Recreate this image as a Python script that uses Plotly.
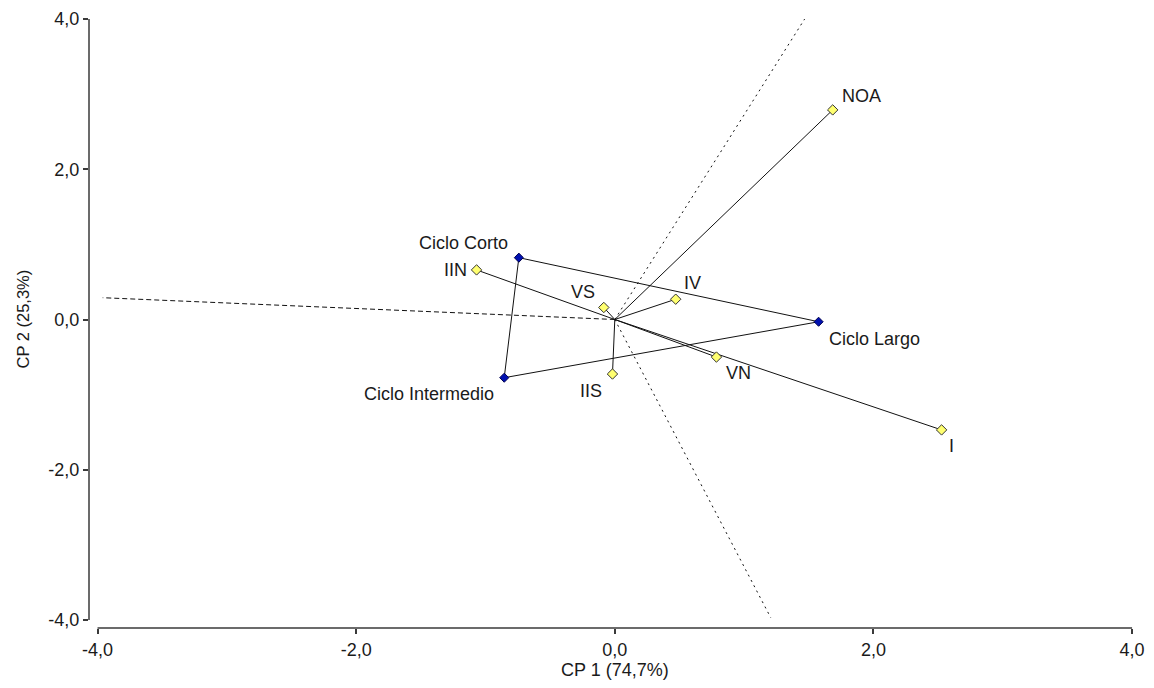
import plotly.graph_objects as go

# ---- data ----
env_names = ["NOA", "I", "IV", "VN", "VS", "IIS", "IIN"]
env_x = [1.685, 2.527, 0.471, 0.786, -0.085, -0.018, -1.069]
env_y = [2.79, -1.47, 0.27, -0.50, 0.16, -0.726, 0.66]

gen_names = ["Ciclo Corto", "Ciclo Largo", "Ciclo Intermedio"]
gen_x = [-0.742, 1.576, -0.855]
gen_y = [0.823, -0.03, -0.775]

ray_x = [-3.96, 1.468, 1.206]
ray_y = [0.29, 4.0, -3.97]

tick_vals = [-4, -2, 0, 2, 4]
tick_text = ["-4,0", "-2,0", "0,0", "2,0", "4,0"]

x_title = "CP 1 (74,7%)"
y_title = "CP 2 (25,3%)"

# ---- style ----
FONT = "Liberation Sans, Arial, sans-serif"
TXT = "#1a1a1a"
label_style = {
    "NOA": dict(xanchor="left", xshift=7, yshift=14),
    "I": dict(xanchor="center", xshift=10, yshift=-16),
    "IV": dict(xanchor="left", xshift=6, yshift=16),
    "VN": dict(xanchor="left", xshift=8, yshift=-16),
    "VS": dict(xanchor="right", xshift=-7, yshift=15),
    "IIS": dict(xanchor="right", xshift=-8, yshift=-17),
    "IIN": dict(xanchor="right", xshift=-8, yshift=0),
    "Ciclo Corto": dict(xanchor="right", xshift=-9, yshift=15),
    "Ciclo Largo": dict(xanchor="left", xshift=8, yshift=-17),
    "Ciclo Intermedio": dict(xanchor="right", xshift=-8, yshift=-16),
}

fig = go.Figure()

# dashed sector rays
dash_styles = ["5px,3px", "2px,4px", "2px,4px"]
for rx, ry, ds in zip(ray_x, ray_y, dash_styles):
    fig.add_trace(go.Scatter(x=[0, rx], y=[0, ry], mode="lines",
                             line=dict(color="#111", width=1, dash=ds),
                             hoverinfo="skip", showlegend=False))

# environment vectors
vx, vy = [], []
for ex, ey in zip(env_x, env_y):
    vx += [0, ex, None]
    vy += [0, ey, None]
fig.add_trace(go.Scatter(x=vx, y=vy, mode="lines",
                         line=dict(color="#111", width=1),
                         hoverinfo="skip", showlegend=False))

# polygon of genotypes
fig.add_trace(go.Scatter(x=gen_x + gen_x[:1], y=gen_y + gen_y[:1], mode="lines",
                         line=dict(color="#111", width=1),
                         hoverinfo="skip", showlegend=False))

# markers
fig.add_trace(go.Scatter(x=env_x, y=env_y, mode="markers",
                         marker=dict(symbol="diamond", size=8, color="#ffff70",
                                     line=dict(color="#333", width=1)),
                         showlegend=False))
fig.add_trace(go.Scatter(x=gen_x, y=gen_y, mode="markers",
                         marker=dict(symbol="diamond", size=7, color="#0010b0",
                                     line=dict(color="#000050", width=1)),
                         showlegend=False))

# labels
for names, xs, ys in [(env_names, env_x, env_y), (gen_names, gen_x, gen_y)]:
    for n, x, y in zip(names, xs, ys):
        st = label_style[n]
        fig.add_annotation(x=x, y=y, text=n, showarrow=False,
                           xanchor=st["xanchor"], yanchor="middle",
                           xshift=st["xshift"], yshift=st["yshift"],
                           font=dict(family=FONT, size=18, color=TXT))

# axis lines (detached style)
fig.add_shape(type="line", xref="x", yref="paper", x0=tick_vals[0], x1=tick_vals[-1],
              y0=0, y1=0, line=dict(color="#3a3a3a", width=1.5))
fig.add_shape(type="line", xref="paper", yref="y", x0=0, x1=0,
              y0=tick_vals[0], y1=tick_vals[-1], line=dict(color="#3a3a3a", width=1.5))

# axis titles
fig.add_annotation(xref="x", yref="paper", x=0, y=0, yshift=-42, text=x_title,
                   showarrow=False, xanchor="center", yanchor="middle",
                   font=dict(family=FONT, size=18, color=TXT))
fig.add_annotation(xref="paper", yref="y", x=0, y=0, xshift=-67, text=y_title,
                   textangle=-90, showarrow=False, xanchor="center", yanchor="middle",
                   font=dict(family=FONT, size=16.5, color=TXT))

axis_common = dict(showgrid=False, zeroline=False, showline=False, automargin=False,
                   ticks="outside", ticklen=5, tickwidth=1.5, tickcolor="#3a3a3a",
                   tickvals=tick_vals, ticktext=tick_text,
                   tickfont=dict(family=FONT, size=18, color=TXT))

fig.update_layout(
    width=1154, height=688,
    margin=dict(l=89, r=20, t=17, b=60, autoexpand=False),
    paper_bgcolor="white", plot_bgcolor="white",
    xaxis=dict(range=[-4.066, 4.015], **axis_common),
    yaxis=dict(range=[-4.107, 4.027], **axis_common),
    showlegend=False,
)

fig.write_html("out.html")
